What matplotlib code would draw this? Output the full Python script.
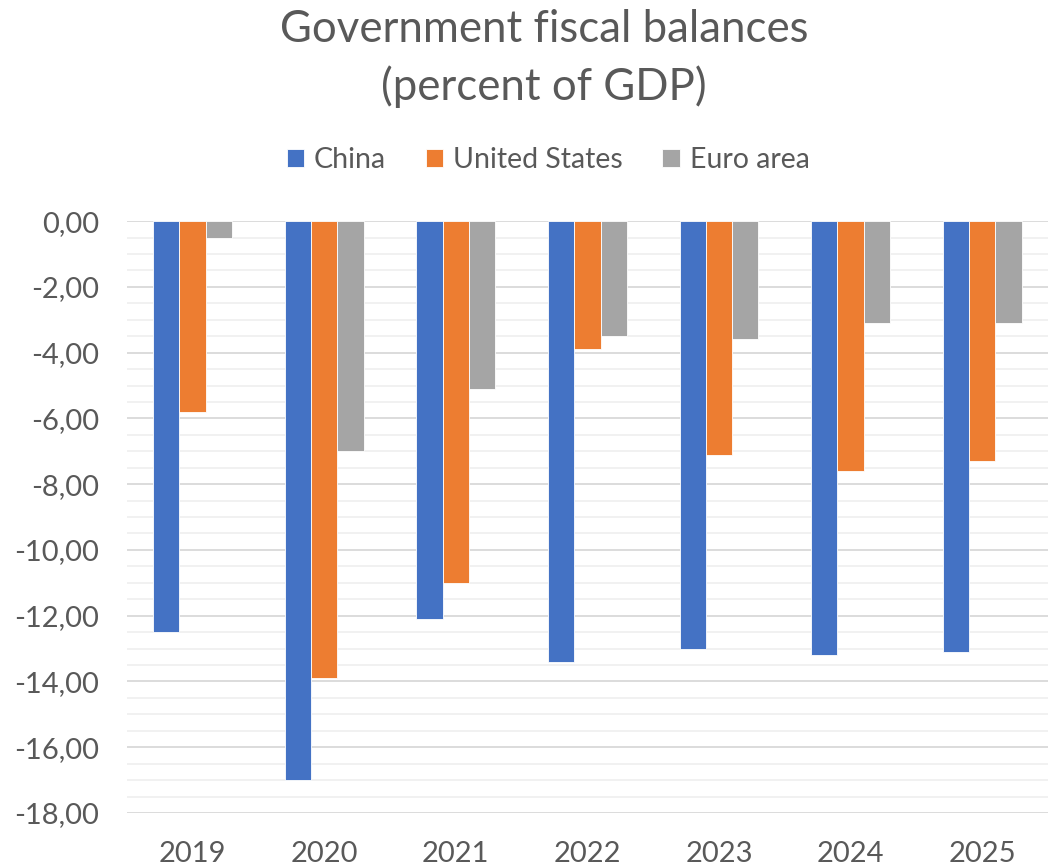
import numpy as np
import matplotlib
matplotlib.use("Agg")
import matplotlib.pyplot as plt
from matplotlib.ticker import MultipleLocator, FuncFormatter

years = ["2019", "2020", "2021", "2022", "2023", "2024", "2025"]
china = [-12.5, -17.0, -12.1, -13.4, -13.0, -13.2, -13.1]
united_states = [-5.8, -13.9, -11.0, -3.9, -7.1, -7.6, -7.3]
euro_area = [-0.5, -7.0, -5.1, -3.5, -3.6, -3.1, -3.1]

series = [("China", china, "#4472C4"),
          ("United States", united_states, "#ED7D31"),
          ("Euro area", euro_area, "#A5A5A5")]

plt.rcParams["font.family"] = ["Lato", "DejaVu Sans"]
text_color = "#595959"

fig = plt.figure(figsize=(10.48, 8.67), dpi=100)
ax = fig.add_axes([0.121, 0.0623, 0.879, 0.6827])

x = np.arange(len(years))
width = 0.2
for i, (name, vals, col) in enumerate(series):
    ax.bar(x + (i - 1) * width, vals, width, color=col, label=name,
           edgecolor="white", linewidth=0.6, zorder=3)

ax.set_xlim(-0.5, len(years) - 0.5)
ax.set_ylim(-18, 0)
ax.yaxis.set_major_locator(MultipleLocator(2))
ax.yaxis.set_minor_locator(MultipleLocator(0.5))
ax.yaxis.set_major_formatter(FuncFormatter(lambda v, p: f"{v:.2f}".replace(".", ",")))
ax.grid(axis="y", which="major", color="#D9D9D9", linewidth=1.3, zorder=0)
ax.grid(axis="y", which="minor", color="#F0F0F0", linewidth=1.3, zorder=0)
for s in ax.spines.values():
    s.set_visible(False)

ax.set_xticks(x)
ax.set_xticklabels(years)
ax.tick_params(axis="both", which="both", length=0, labelsize=21, colors=text_color)
ax.tick_params(axis="y", pad=20)
ax.tick_params(axis="x", pad=20)

fig.text(0.519, 0.99, "Government fiscal balances\n(percent of GDP)", ha="center",
         va="top", fontsize=31.5, color=text_color, linespacing=1.45)

fig.legend(loc="center", bbox_to_anchor=(0.523, 0.815), ncol=3, frameon=False,
           fontsize=20.5, handlelength=0.6, handleheight=0.6, handletextpad=0.35,
           columnspacing=1.4, labelcolor=text_color)

fig.savefig("out.png", dpi=100)
